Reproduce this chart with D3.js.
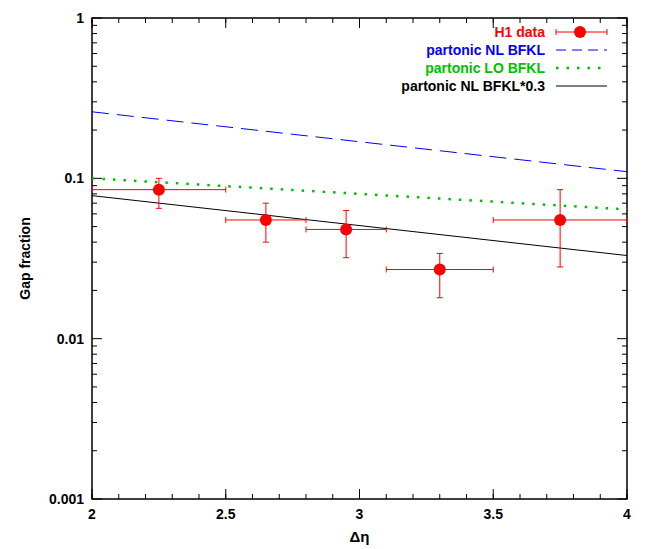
<!DOCTYPE html><html><head><script src="https://cdn.jsdelivr.net/npm/d3@7"></script>
<style>body{margin:0;background:#fff}text{font-family:"Liberation Sans",Arial,sans-serif;font-weight:bold}</style></head><body><svg id="c" width="654" height="549"></svg>
<script>
const etaX=[2.25,2.65,2.95,3.3,3.75];
const xLo=[2.0,2.5,2.8,3.1,3.5];
const xHi=[2.5,2.8,3.1,3.5,4.0];
const gap=[0.085,0.055,0.048,0.027,0.055];
const yLo=[0.065,0.040,0.032,0.018,0.028];
const yHi=[0.100,0.070,0.063,0.034,0.085];
const lineX=[2,4];
const nlBFKL=[0.26,0.11];
const loBFKL=[0.10,0.064];
const nl03=[0.078,0.033];
const xTicks=[2,2.5,3,3.5,4];
const yTicks=[0.001,0.01,0.1,1];
const yTickLabels=["0.001","0.01","0.1","1"];
const svg=d3.select("#c");
const L=92,R=627,T=18,B=499;
const x=d3.scaleLinear().domain([2,4]).range([L,R]);
const y=d3.scaleLog().domain([0.001,1]).range([B,T]);
svg.append("rect").attr("x",L).attr("y",T).attr("width",R-L).attr("height",B-T).attr("fill","none").attr("stroke","#000").attr("stroke-width",1.5);
const minor=[];for(let d=0.001;d<1;d*=10)for(let k=2;k<10;k++)minor.push(d*k);
minor.forEach(v=>{[[L,L+5],[R,R-5]].forEach(p=>svg.append("line").attr("x1",p[0]).attr("x2",p[1]).attr("y1",y(v)).attr("y2",y(v)).attr("stroke","#000"));});
yTicks.forEach((v,i)=>{[[L,L+10],[R,R-10]].forEach(p=>svg.append("line").attr("x1",p[0]).attr("x2",p[1]).attr("y1",y(v)).attr("y2",y(v)).attr("stroke","#000"));
svg.append("text").attr("x",L-8).attr("y",y(v)+5).attr("text-anchor","end").attr("font-size",14).text(yTickLabels[i]);});
const xm=d3.range(2,4.0001,0.1);
xm.forEach(v=>{[[B,B-5],[T,T+5]].forEach(p=>svg.append("line").attr("x1",x(v)).attr("x2",x(v)).attr("y1",p[0]).attr("y2",p[1]).attr("stroke","#000"));});
xTicks.forEach(v=>{[[B,B-10],[T,T+10]].forEach(p=>svg.append("line").attr("x1",x(v)).attr("x2",x(v)).attr("y1",p[0]).attr("y2",p[1]).attr("stroke","#000"));
svg.append("text").attr("x",x(v)).attr("y",B+20).attr("text-anchor","middle").attr("font-size",14).text(v);});
svg.append("text").attr("x",(L+R)/2).attr("y",B+43).attr("text-anchor","middle").attr("font-size",15).text("Δη");
svg.append("text").attr("transform",`translate(30,${(T+B)/2}) rotate(-90)`).attr("text-anchor","middle").attr("font-size",14).text("Gap fraction");
const ln=d3.line().x((d,i)=>x(lineX[i])).y(d=>y(d));
const g=svg.append("g");
g.append("path").attr("d",ln(nlBFKL)).attr("stroke","#0000ff").attr("fill","none").attr("stroke-dasharray","17,8");
g.append("path").attr("d",ln(loBFKL)).attr("stroke","#00c000").attr("fill","none").attr("stroke-width",2.5).attr("stroke-dasharray","2.5,8");
g.append("path").attr("d",ln(nl03)).attr("stroke","#000").attr("fill","none");
const red="#ff0000";
etaX.forEach((v,i)=>{
 g.append("line").attr("x1",x(xLo[i])).attr("x2",x(xHi[i])).attr("y1",y(gap[i])).attr("y2",y(gap[i])).attr("stroke",red);
 g.append("line").attr("x1",x(v)).attr("x2",x(v)).attr("y1",y(yLo[i])).attr("y2",y(yHi[i])).attr("stroke",red);
 [xLo[i],xHi[i]].forEach(e=>g.append("line").attr("x1",x(e)).attr("x2",x(e)).attr("y1",y(gap[i])-3).attr("y2",y(gap[i])+3).attr("stroke",red));
 [yLo[i],yHi[i]].forEach(e=>g.append("line").attr("x1",x(v)-3).attr("x2",x(v)+3).attr("y1",y(e)).attr("y2",y(e)).attr("stroke",red));
 g.append("circle").attr("cx",x(v)).attr("cy",y(gap[i])).attr("r",6).attr("fill",red);
});
const leg=[["H1 data",red],["partonic NL BFKL","#0000ff"],["partonic LO BFKL","#00c000"],["partonic NL BFKL*0.3","#000"]];
leg.forEach((d,i)=>{const yy=32+i*18;svg.append("text").attr("x",545).attr("y",yy+5).attr("text-anchor","end").attr("font-size",14).attr("fill",d[1]).text(d[0]);});
let yy=32;
svg.append("line").attr("x1",556).attr("x2",607).attr("y1",yy).attr("y2",yy).attr("stroke",red);
[556,607].forEach(e=>svg.append("line").attr("x1",e).attr("x2",e).attr("y1",yy-3).attr("y2",yy+3).attr("stroke",red));
svg.append("circle").attr("cx",580).attr("cy",yy).attr("r",6).attr("fill",red);
svg.append("line").attr("x1",556).attr("x2",607).attr("y1",50).attr("y2",50).attr("stroke","#0000ff").attr("stroke-dasharray","10,6");
svg.append("line").attr("x1",556).attr("x2",607).attr("y1",68).attr("y2",68).attr("stroke","#00c000").attr("stroke-width",2.5).attr("stroke-dasharray","2.5,8");
svg.append("line").attr("x1",556).attr("x2",607).attr("y1",86).attr("y2",86).attr("stroke","#000");
</script></body></html>
